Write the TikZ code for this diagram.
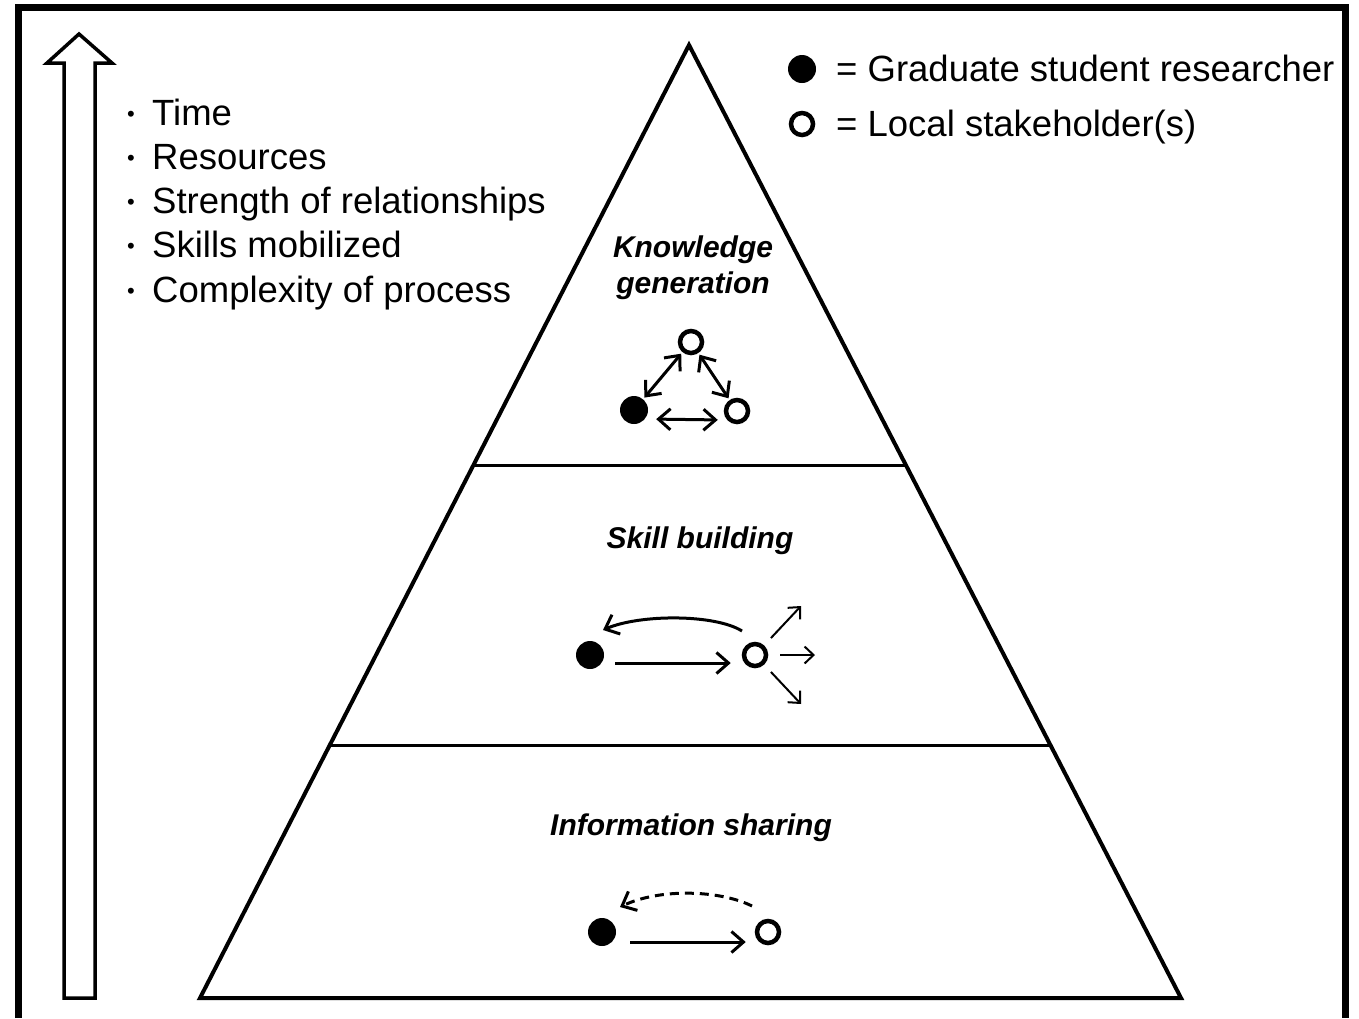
\documentclass[tikz,border=0pt]{standalone}
\usepackage{fontspec}
\setmainfont{Liberation Sans}
\usetikzlibrary{arrows.meta}

\tikzset{
  grad/.style={circle,fill=black,minimum size=28pt,inner sep=0pt},
  stake/.style={circle,draw,line width=4.5pt,minimum size=22pt,inner sep=0pt},
  level/.style={font=\fontsize{30}{36}\selectfont\bfseries\itshape,align=center,inner sep=0pt},
  listitem/.style={font=\fontsize{36.5}{40}\selectfont,anchor=base west,inner sep=0pt},
  rel/.style={line width=3pt,-{Straight Barb[length=12pt,width=21pt,line width=3pt]}},
  birel/.style={line width=3pt,{Straight Barb[length=12pt,width=21pt,line width=3pt]}-{Straight Barb[length=12pt,width=21pt,line width=3pt]}},
  spread/.style={line width=2pt,-{Straight Barb[length=9pt,width=17pt,line width=2pt]}}
}

\begin{document}
\begin{tikzpicture}[x=1pt,y=-1pt]
    \useasboundingbox (0,0) rectangle (1359,1018);
    % frame, open at the bottom
    \draw[line width=6.5pt] (18.5,1018) -- (18.5,7.5) -- (1345.5,7.5) -- (1345.5,1018);

    % hollow arrow on the left
    \draw[line width=3.5pt,line join=miter] (64,998) -- (64,63) -- (47,63) -- (79,34) -- (112,63) -- (95,63) -- (95,998) -- cycle;

    % list
    \foreach \txt [count=\i] in {Time,Resources,Strength of relationships,Skills mobilized,Complexity of process}
        {
        \node[listitem] (item\i) at (152,{125+44.3*(\i-1)}) {\txt};
        \node[font=\fontsize{22}{22}\selectfont,anchor=base] (dot\i) at (131,{121+44.3*(\i-1)}) {\textbullet};
        }

    % legend
    \node[grad] (keyg) at (802,69) {};
    \node[stake] (keys) at (802,124) {};
    \node[listitem] (keygtxt) at (836,81) {= Graduate student researcher};
    \node[listitem] (keystxt) at (836,136) {= Local stakeholder(s)};

    % pyramid
    \draw[line width=4pt,line join=miter] (689,45) -- (1181,998) -- (200,998) -- cycle;
    \draw[line width=3pt] (475,465) -- (905,465);
    \draw[line width=3pt] (331,745) -- (1050,745);

    % knowledge generation
    \node[level,anchor=base] (kgtxt) at (693,293) {Knowledge\\generation};
    \node[stake] (kt) at (691,342) {};
    \node[grad] (kg) at (634,410) {};
    \node[stake] (kr) at (737,411) {};
    \draw[birel,shorten <=2pt,shorten >=2pt] (kg) -- (kt);
    \draw[birel,shorten <=2pt,shorten >=2pt] (kt) -- (kr);
    \draw[birel,shorten <=8pt,shorten >=6pt] ([yshift=-9pt]kg.east) -- ([yshift=-9pt]kr.west);

    % skill building
    \node[level,anchor=base] (sbtxt) at (700,548) {Skill building};
    \node[grad] (sg) at (590,655) {};
    \node[stake] (ss) at (755,655) {};
    \coordinate (out1) at (801,606);
    \coordinate (out2) at (815,655);
    \coordinate (out3) at (801,704);
    \draw[rel,shorten <=11pt,shorten >=11pt] ([yshift=-8pt]sg.east) -- ([yshift=-8pt]ss.west);
    \draw[rel] (742,631) .. controls (715,614) and (640,614) .. (603,630);
    \draw[spread,shorten <=10pt] (ss) -- (out1);
    \draw[spread,shorten <=12pt] (ss) -- (out2);
    \draw[spread,shorten <=10pt] (ss) -- (out3);

    % information sharing
    \node[level,anchor=base] (istxt) at (691,835) {Information sharing};
    \node[grad] (ig) at (602,932) {};
    \node[stake] (is) at (768,932) {};
    \draw[rel,shorten <=14pt,shorten >=9pt] ([yshift=-10pt]ig.east) -- ([yshift=-10pt]is.west);
    \draw[rel,dashed,dash pattern=on 9pt off 6pt] (752,906) .. controls (720,890) and (660,888) .. (620,907);
\end{tikzpicture}
\end{document}
